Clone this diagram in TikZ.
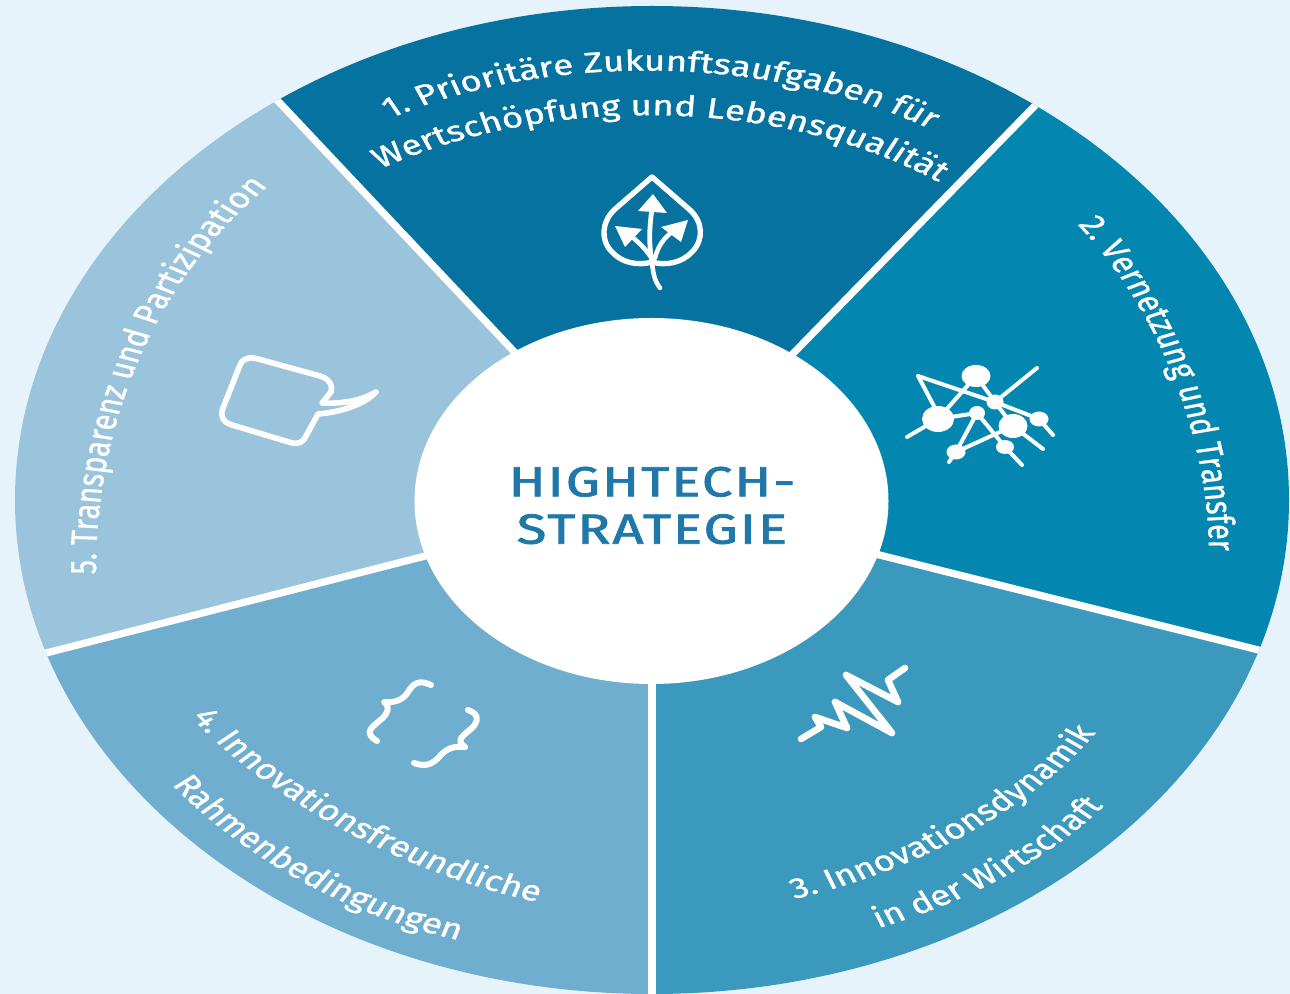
\documentclass[tikz,border=0pt]{standalone}
\usepackage{fontspec}
\setmainfont{Fira Sans}
\usetikzlibrary{decorations.text}
\definecolor{bgc}{HTML}{E6F3FB}
\definecolor{segA}{HTML}{06729F}
\definecolor{segB}{HTML}{0387B1}
\definecolor{segC}{HTML}{3C99BE}
\definecolor{segD}{HTML}{6FAECE}
\definecolor{segE}{HTML}{9AC4DC}
\definecolor{headc}{HTML}{1F78A8}
\newfontfamily\curvefam[FakeBold=1]{Fira Sans}
\newfontfamily\titlefam[FakeBold=1.8,LetterSpace=4]{Fira Sans}
\newcommand{\curvefont}{\curvefam\fontsize{21.4}{26}\selectfont\color{white}}
\tikzset{
  curvetext/.style={decorate,decoration={text along path,text align=center,text={|\curvefont|#1}}},
  spoke/.style={draw=white,line width=5.4pt},
  icon/.style={draw=white,line width=4pt,line join=round,line cap=round,fill=none},
  iconthin/.style={draw=white,line width=3pt,line join=round,line cap=round},
  stretched/.style={x=0.5814pt,transform canvas={xscale=1.29}},
}
\begin{document}
\begin{tikzpicture}[x=0.75pt,y=-0.75pt]
\useasboundingbox (0,0) rectangle (1290,994);
\fill[bgc] (0,0) rectangle (1290,994);
\coordinate (c) at (652,498);
\coordinate (sTL) at (98,-90);
\coordinate (sTR) at (1226,-90);
\coordinate (sR) at (1490,708);
\coordinate (sL) at (-200,716);
\coordinate (sB) at (652,1100);
\begin{scope}
  \clip (652,500) ellipse [x radius=637,y radius=494];
  \fill[segA] (c) -- (sTL) -- (sTR) -- cycle;
  \fill[segB] (c) -- (sTR) -- (1500,-90) -- (sR) -- cycle;
  \fill[segC] (c) -- (sR) -- (1500,1100) -- (sB) -- cycle;
  \fill[segD] (c) -- (sB) -- (-200,1100) -- (sL) -- cycle;
  \fill[segE] (c) -- (sL) -- (-200,-90) -- (sTL) -- cycle;
  \draw[spoke] (c) -- (sTL);
  \draw[spoke] (c) -- (sTR);
  \draw[spoke] (c) -- (sR);
  \draw[spoke] (c) -- (sL);
  \draw[spoke] (c) -- (sB);
\end{scope}
\fill[white] (651.5,501) ellipse [x radius=237,y radius=183];
\begin{scope}[stretched]
\node (title) [align=center,text=headc,font={\titlefam\fontsize{31.5}{35.5}\selectfont}] at (652,505.5) {HIGHTECH-\\STRATEGIE};
% curved labels
\path[curvetext={1. Prioritäre Zukunftsaufgaben für}] (372,127) .. controls (530,50) and (780,50) .. (948,138);
\path[curvetext={Wertschöpfung und Lebensqualität}] (362,178) .. controls (530,92) and (790,92) .. (956,192);
\path[curvetext={2. Vernetzung und Transfer}] (1075,222) .. controls (1152,300) and (1209,430) .. (1209,554);
\path[curvetext={3. Innovationsdynamik}] (790,900) .. controls (910,873) and (1030,812) .. (1098,730);
\path[curvetext={in der Wirtschaft}] (872,930) .. controls (960,905) and (1050,860) .. (1108,802);
\path[curvetext={4. Innovationsfreundliche}] (194,720) .. controls (267,797) and (397,871) .. (533,901);
\path[curvetext={Rahmenbedingungen}] (172,785) .. controls (247,860) and (347,915) .. (458,940);
\path[curvetext={5. Transparenz und Partizipation}] (96,572) .. controls (96,420) and (156,280) .. (266,188);
\end{scope}
% leaf icon
\draw[icon] (652,177) -- (690,210) .. controls (703,222) and (704,240) .. (692,252) .. controls (682,263) and (665,266) .. (652,262) .. controls (638,266) and (622,263) .. (612,252) .. controls (600,240) and (602,222) .. (614,210) -- cycle;
\draw[iconthin,line width=3.4pt] (652,262) .. controls (653,272) and (654,280) .. (660,288);
\draw[iconthin,line width=3.6pt] (652,262) .. controls (648,240) and (650,225) .. (652,208);
\draw[iconthin,line width=3.4pt] (650,256) .. controls (645,248) and (638,242) .. (630,235);
\draw[iconthin,line width=3.4pt] (655,258) .. controls (658,246) and (664,238) .. (672,232);
\fill[white] (653,194) -- (638,211) -- (667,213) -- cycle;
\fill[white] (615,226) -- (642,229) -- (625,247) -- cycle;
\fill[white] (688,220) -- (661,227) -- (681,242) -- cycle;
% network icon
\draw[iconthin] (918,376) -- (995,402) -- (1039,419) -- (1053,435);
\draw[iconthin] (918,376) -- (935,408);
\draw[iconthin] (1037,368) -- (995,402);
\draw[iconthin] (976,376) -- (938,419);
\draw[iconthin] (976,376) -- (995,402);
\draw[iconthin] (938,419) -- (907,437);
\draw[iconthin] (938,419) -- (977,413);
\draw[iconthin] (977,413) -- (956,452) -- (949,462);
\draw[iconthin] (977,413) -- (1005,447) -- (1022,465);
\draw[iconthin] (995,402) -- (1013,426) -- (1043,449);
\draw[iconthin] (956,452) -- (1013,426);
\fill[white] (976,376) ellipse [x radius=14.5,y radius=11];
\fill[white] (938,419) ellipse [x radius=16,y radius=13];
\fill[white] (995,402) ellipse [x radius=8.5,y radius=7.5];
\fill[white] (977,413) ellipse [x radius=8,y radius=7];
\fill[white] (1013,426) ellipse [x radius=14.5,y radius=12];
\fill[white] (1039,419) ellipse [x radius=9.5,y radius=7.5];
\fill[white] (1005,447) ellipse [x radius=9,y radius=7];
\fill[white] (956,452) ellipse [x radius=9.5,y radius=7.5];
% wave icon
\draw[icon,line width=5pt] (801,739) -- (821,727) -- (815,717) -- (847,728) -- (835,702) -- (892,733) -- (846,675) -- (898,702) -- (888,680) -- (905,668);
% brace icons
\draw[icon,line width=4.5pt] (431,685) .. controls (420,680) and (414,682) .. (408,692) .. controls (403,700) and (395,703) .. (384,702) .. controls (392,708) and (386,716) .. (378,722) .. controls (371,728) and (364,733) .. (377,741);
\draw[icon,line width=4.5pt] (468,710) .. controls (480,714) and (478,722) .. (472,728) .. controls (463,736) and (455,740) .. (465,747) .. controls (454,746) and (447,748) .. (440,756) .. controls (432,765) and (425,767) .. (414,763);
% speech bubble icon
\draw[icon,line width=4.2pt] (246,359) .. controls (250,357) and (254,358) .. (258,359) -- (320,376) .. controls (330,379) and (333,386) .. (331,392) -- (322,403) .. controls (345,404) and (362,400) .. (376,392) .. controls (365,404) and (342,412) .. (318,414) -- (306,436) .. controls (303,443) and (298,444) .. (292,443) -- (232,425) .. controls (222,422) and (220,415) .. (223,408) -- (238,370) .. controls (240,364) and (242,360) .. (246,359) -- cycle;
\end{tikzpicture}
\end{document}
